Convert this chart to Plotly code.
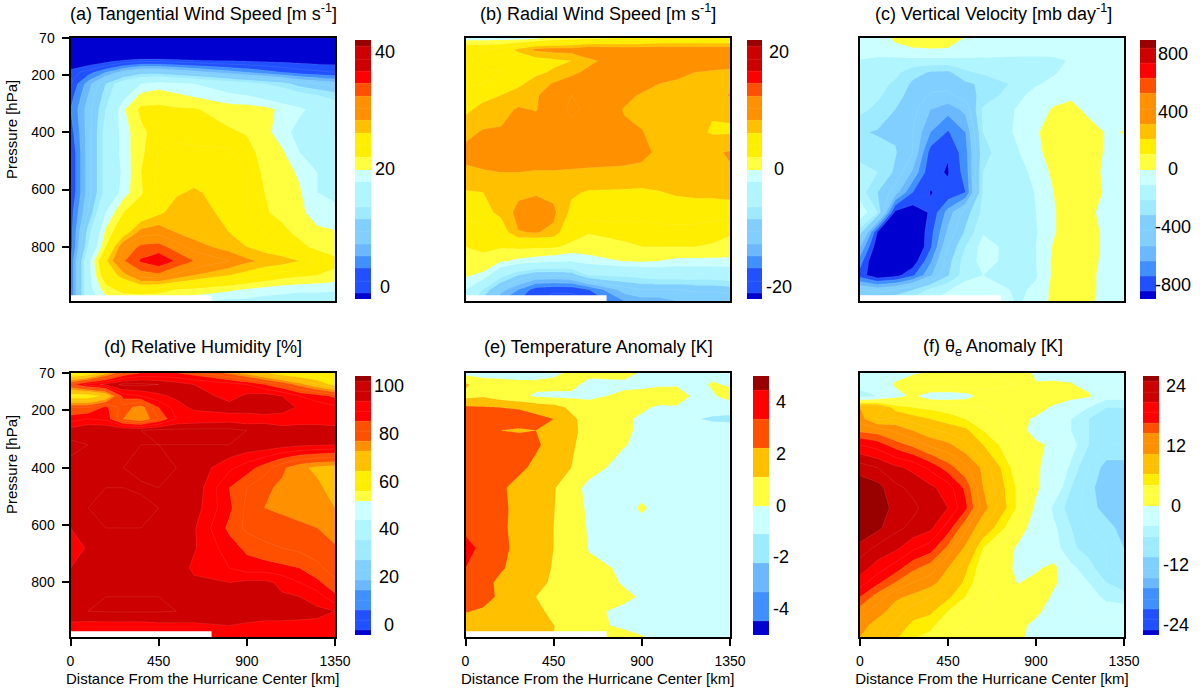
import plotly.graph_objects as go

W, H = 1200, 695

# Grid: distance (km) and pressure (hPa)
distance = [0, 90, 180, 270, 360, 450, 540, 630, 810, 900, 990, 1080, 1170, 1260, 1350]
pressure = [70, 110, 150, 190, 230, 270, 320, 400, 470, 540, 610, 680, 750, 800, 850, 900, 950, 990]
# Blank strip under the lowest level near the centre (outline in km and hPa)
missing_distance = [0, 720, 720, 0, 0]
missing_pressure = [970, 970, 990, 990, 970]

tangential = [
 [-12,-12,-12,-12,-12,-12,-12,-12,-12,-12,-12,-12,-12,-12,-12],
 [-8,-8,-8,-8,-8,-8,-8,-8,-8,-8,-8,-8,-8,-8,-8],
 [-3,-2,-1,0.5,1.5,1.5,1,0.5,0,-0.2,-0.4,-0.6,-0.8,-1,-1],
 [1,3,6,9,11,11,10,9,7,6,5,4,3,2.5,2],
 [2,7,12,16,18,19,18.5,18,16,15,14,13,11,10,9],
 [3,8,13,17,20.5,21,20.3,19.7,18.5,18,17,16,15,14,13],
 [4,9,14,19.7,22.5,22.5,22.3,22.2,21,21,20.7,19.5,18.5,17,16],
 [3,9,15,19,21.5,23,23.5,23,22.3,21.8,20.7,19,17,16,16],
 [2,9,15,19,21.5,24,24.5,24.5,24.4,23,21,20.3,18,17,16.5],
 [2,9,15,18.5,22,24.5,25,25,24.5,24,21.5,20.8,19.7,18,17.5],
 [2,9,15,19,21.7,24.5,25.7,26.3,25,24,22,21,20.2,18,17.5],
 [3,10,18,22,23.5,25.5,27,27.5,25,24,22.2,21.5,20.5,19,18.5],
 [3,13,20.5,24.5,29,29.5,28,27,26,25,24,22.5,21.5,20.5,20.2],
 [3,14,22,30,32.5,32.8,31,29,27,26,25,24,22.5,21.5,21],
 [4,17,25.5,31.8,34.3,35.5,33.8,32,30,28.5,27.5,27,26,23.5,22.5],
 [4,17,24,27,31,31.5,29.5,28,26,25,24,23,22.5,22,21.5],
 [4,17,21,23,23.5,23,22,21.5,20.5,19.8,19.2,18.8,18.5,18.5,18.3],
 [4,16,19,20,20,20,19,18.5,17.5,17.5,17,16.8,16.5,16.5,16.5],
]

radial = [
 [-1,-1,-1,-1,-0.5,0.5,1,1.5,2,2.2,3,3,3,3,3],
 [4,4,4.5,6.5,8.5,9,9,10,9.5,9.5,9.5,9.5,9.5,9.5,9.5],
 [3.5,4.5,4.5,4.5,5,5.5,6,7.5,9.5,10,10,10,9.5,9,9],
 [3,3.5,4,4.5,5.5,6.3,7.5,8.5,9.5,9.7,9,8.7,8,7.8,7.6],
 [3.5,4,4.7,5.5,7,8.2,9,9.5,9.5,8.8,8,7.6,7.3,7,7],
 [5,5.3,6,7,7.8,9,10,9.7,8.5,7.8,7.3,7,6.8,7,8.2],
 [5.5,6.7,7.4,8.2,7.9,9.5,10.2,9.8,7.9,7.4,7,6.6,6.3,6.2,6.3],
 [7.5,8.2,8.2,8.8,9,9.5,9.6,9.3,8.3,8.1,7.2,6.8,6.5,5.8,5.8],
 [8.5,8.6,8.3,8.6,8.8,9,9,9,8.8,8.4,7.7,7.2,7.3,7.7,8.2],
 [7.7,7.9,8,8,7.9,7.9,7.8,7.7,7.6,7.6,7.4,7.4,7.5,7.8,7.8],
 [5.8,6,7,7.5,7.8,7.5,6.3,5.8,5.7,5.6,5.9,6.3,6.5,6.5,6.6],
 [5,5.3,6.5,8.7,9,8.4,5.5,5.3,5,4.8,4.7,4.8,4.8,4.8,5],
 [2.5,3,4.5,7.9,8.1,7.6,3,2.1,3,3,3.5,3.5,3.5,3,2.2],
 [2,2.3,2.2,2.5,2.4,2.3,1.5,1.2,1.4,2,2,2,2,1.7,1.4],
 [1.5,1.6,0.3,-0.5,-1,-1.5,-1.9,-0.9,0.1,0.3,0,-0.5,-0.5,-0.5,-0.5],
 [0.3,-0.5,-5,-8,-10,-10,-9.5,-6,-5.5,-5,-4.5,-4.5,-4.5,-4.5,-4],
 [-2,-6,-11,-14,-17,-17.5,-17.5,-16,-11,-10,-10,-10,-9.5,-9.5,-9],
 [-4,-9,-14,-16,-18,-19,-19,-18,-14,-13,-13,-12,-12,-12,-12],
]

vertical = [
 [-80,-60,20,60,60,70,-10,-40,-40,-40,-40,-40,-40,-40,-40],
 [-50,-60,-30,-10,-5,-10,-30,-50,-50,-50,-50,-50,-50,-50,-50],
 [-105,-120,-130,-130,-130,-130,-125,-120,-130,-130,-125,-90,-60,-50,-50],
 [-130,-140,-170,-260,-310,-320,-220,-180,-140,-140,-110,-70,-50,-50,-50],
 [-140,-160,-220,-320,-370,-370,-320,-280,-170,-110,-80,-60,-50,-50,-50],
 [-160,-180,-260,-340,-410,-420,-350,-270,-120,-70,-40,-30,-40,-50,-50],
 [-170,-230,-300,-370,-500,-560,-470,-180,-90,-40,10,50,-40,-50,-50],
 [-290,-310,-320,-400,-600,-710,-600,-200,-80,-10,40,70,70,-10,5],
 [-250,-260,-290,-400,-740,-795,-640,-230,-105,-30,50,80,80,-20,-60],
 [-150,-200,-320,-520,-780,-806,-660,-200,-150,-60,20,70,60,-30,-50],
 [-150,-300,-450,-700,-803,-780,-700,-190,-190,-90,0,70,70,-20,-50],
 [-30,-200,-830,-860,-790,-560,-350,-170,-180,-100,-10,60,20,-30,-50],
 [-250,-810,-900,-930,-740,-480,-280,-110,-170,-110,-10,60,50,-30,-40],
 [-500,-880,-950,-950,-720,-400,-200,-60,-150,-100,10,60,50,-30,-50],
 [-650,-950,-950,-870,-620,-340,-150,-70,-140,-100,20,60,50,-40,-50],
 [-750,-880,-840,-720,-520,-310,-140,-100,-130,-110,20,60,30,-40,-50],
 [-400,-450,-400,-310,-180,-110,-40,-40,-120,-80,30,60,30,-40,-50],
 [-200,-200,-200,-150,-100,-50,-30,-30,-110,-70,30,60,20,-40,-50],
]

humidity = [
 [55,58,70,80,84,84,84,82,75,70,65,60,58,57,56],
 [82,90,93,97,97,96,94,92,90,88,84,80,74,68,62],
 [60,60,66,86,88,91,93,95,90,93,94,92,88,86,83],
 [80,80,85,78,74,84,90,93,94,95,95,95,91,90,89],
 [86,88,87,76,72,80,88,89,90,89,90,89,90,90,89],
 [94,96,96,96,96,97,97,97,97,96,95,94,94,94,94],
 [97,96,96,96,96,96,96,96,96,95,95,94,93,92.5,92],
 [95,95,96,96,97,97,96,95,89,86,82,77,73,71,70],
 [96,96,96,96,95.5,96,96,95,84,80,77,75,74,73,70],
 [95,96,97,97,97,96,96,94,85,79,76,75,74,73,72],
 [92,96,96,96,96,96,95,92.5,83,79,78,78,77,76,72],
 [90,92.5,96,96,96,96,95,92.5,86,83,81,80,79,78,77],
 [92,95,96,96,96,96,95,91,88,86,86,85,84,81,78],
 [93,95,96,96,96,96,96,93,92,93,93,91,88,85,81],
 [96,96,96,96,96,96,96,95,95,94,94,92.5,92,90,85],
 [95,96,96.3,96.3,96.3,96.3,96,96,95,94,94,94,93.5,93,92],
 [91,90.5,90.5,90.5,90.5,91,91,91,92,91.5,91,91,91,91,90],
 [90,90,90,90,90,90,90,90,90,90,90,90,90,90,89],
]

temperature = [
 [-0.3,-0.3,-0.3,-0.3,-0.3,-0.2,0.2,0.3,0.3,-0.1,-0.1,-0.1,-0.3,-0.3,-0.3],
 [1.2,0.4,0.3,0.2,0.2,0.3,0.3,-0.3,-0.2,-0.2,-0.1,-0.1,-0.3,0.1,-0.1],
 [0.7,0.9,0.5,0.2,-0.1,-0.2,-0.2,-0.2,0.2,0.3,0.4,0.5,-0.2,-0.1,0.3],
 [2.2,2.1,2,1.9,1.6,1.4,0.8,0.4,0.3,0.1,-0.1,-0.1,-0.3,-0.3,-0.4],
 [2.6,2.6,2.6,2.5,2.3,2,1.2,0.6,0.1,-0.1,-0.2,-0.3,-0.9,-1.2,-1.3],
 [2.5,2.4,2,1.9,2,1.7,1.2,0.7,0.1,-0.1,-0.2,-0.3,-0.3,-0.3,-0.3],
 [2.7,2.6,2.6,2.5,2.2,1.5,1.1,0.7,0.05,-0.2,-0.2,-0.2,-0.2,-0.2,-0.2],
 [2.8,2.8,2.6,2.3,1.7,1.4,1,0.3,-0.3,-0.3,-0.3,-0.3,-0.3,-0.3,-0.3],
 [2.7,2.6,2.2,1.6,1.5,1.1,0.3,-0.2,-0.3,-0.3,-0.3,-0.3,-0.3,-0.3,-0.3],
 [2.7,2.6,2.4,1.5,1.4,1.05,0.3,-0.1,-0.3,0.12,-0.3,-0.3,-0.3,-0.3,-0.3],
 [2.8,2.6,2.2,1.7,1.3,1,0.3,-0.05,-0.2,-0.3,-0.3,-0.3,-0.3,-0.3,-0.3],
 [3.3,2.8,2.2,1.8,1.4,1,0.7,-0.05,-0.05,-0.3,-0.3,-0.3,-0.3,-0.3,-0.3],
 [3,2.7,2.1,1.7,1.3,0.95,0.6,0.2,-0.1,-0.3,-0.3,-0.3,-0.3,-0.3,-0.3],
 [2.5,2.3,1.8,1.6,1.3,0.85,0.6,0.3,-0.05,-0.3,-0.3,-0.3,-0.3,-0.3,-0.3],
 [2.2,2.3,1.85,1.5,1,0.7,0.5,0.3,0.1,-0.05,-0.2,-0.3,-0.3,-0.3,-0.3],
 [2.05,1.9,1.6,1.4,1.2,0.8,0.5,0.1,-0.1,-0.3,-0.3,-0.3,-0.3,-0.3,-0.3],
 [1.6,1.6,1.5,1.3,1.2,1.02,0.7,0.15,-0.1,-0.3,-0.3,-0.3,-0.3,-0.3,-0.3],
 [1.5,1.5,1.4,1.2,1.1,1,0.7,0.3,0.2,0.05,-0.2,-0.3,-0.3,-0.3,-0.3],
]

theta_e = [
 [-4,-3,-1,-0.5,0.5,1,2,2,1.5,-0.5,-1,-1,-1,-1,-1],
 [-3,-2,0.3,3,3,3,3,3,2,0.2,0.5,0.2,-1,-1.5,-1.5],
 [-5,-4,-1,0.5,-1.5,-1.5,-1,1,0.5,1.5,2,1.5,0.5,-3,-3],
 [10,10,5,4,3.5,3,2.5,2,1.5,1.5,-0.5,-3,-4,-6,-6],
 [11,7.5,8.5,7,6,5,4,3,1,-0.5,-2,-4,-6,-7,-7],
 [13.5,13,11.5,10,8.5,7.5,6.5,4,1,-1,-2,-4,-6,-6,-7],
 [18,17,15,13.5,11.5,10.5,8.5,6,1.5,0.5,-0.5,-3,-6,-8,-8],
 [23,22,20.5,19.5,17.5,15,12.5,9.5,2.5,0.5,-1.5,-4.5,-8,-11,-11],
 [25.5,24.8,22.5,21.5,20.5,19,15.5,10,3.5,0.5,-2,-6,-9,-12,-11],
 [26,25,23.5,22.5,21,20,16.5,11,3.5,-0.5,-4.5,-7,-9,-11,-11.5],
 [26.5,24.5,22.5,21.5,20.5,17,12.5,8,1.5,-1.5,-3.5,-6,-8,-9,-11],
 [23,21.5,20.5,18.5,17,13.5,9.5,4,-0.5,-1.5,-3,-5.5,-7,-8,-10],
 [21,19,17,14.5,13,10,6.5,2.5,-0.5,-0.5,1,-3.5,-5,-8,-10],
 [19,16.5,14,12,11,8.5,5.5,2,-0.1,1,0.5,-1.5,-4,-6,-7.5],
 [16,13,10.5,9.5,8,6.5,4,2.5,1,2,-0.5,-1.5,-3,-4.5,-5],
 [13,11,9,7,6.5,4,2.5,2,1,0.5,-1,-1.5,-2.5,-3,-3],
 [11,9,7.5,5.5,4.5,2.5,2,1.5,0.5,-0.5,-1,-1,-1,-1,-1],
 [10,8.5,6.5,4.2,3.5,2,2,1.5,0.3,-0.5,-1,-1,-1,-1,-1],
]

# Palettes, lowest band first
pal_22 = ["#0000d0","#2050ff","#2050ff","#4090ff","#6cb8ff","#80cfff","#80cfff","#9eeaff","#b0f5ff","#b0f5ff","#ccffff",
          "#ffff40","#ffee00","#ffee00","#ffc000","#ff9000","#ff9000","#ff5000","#ff0000","#cc0000","#cc0000","#990000"]
pal_18 = ["#0000d0","#2050ff","#4090ff","#6cb8ff","#80cfff","#80cfff","#9eeaff","#b0f5ff","#ccffff",
          "#ffff40","#ffee00","#ffc000","#ff9000","#ff9000","#ff5000","#ff0000","#cc0000","#990000"]
pal_27 = ["#0000d0","#2050ff","#2050ff","#4090ff","#4090ff","#6cb8ff","#80cfff","#80cfff","#9eeaff","#9eeaff","#b0f5ff","#b0f5ff","#ccffff","#ccffff",
          "#ffff40","#ffee00","#ffee00","#ffc000","#ffc000","#ff9000","#ff5000","#ff5000","#ff0000","#ff0000","#cc0000","#cc0000","#990000"]
pal_10 = ["#0000d0","#4090ff","#6cb8ff","#9eeaff","#ccffff","#ffff40","#ffc000","#ff5000","#ff0000","#990000"]
pal_26 = ["#0000d0","#2050ff","#2050ff","#4090ff","#4090ff","#6cb8ff","#80cfff","#80cfff","#9eeaff","#9eeaff","#b0f5ff","#ccffff","#ccffff",
          "#ffff40","#ffff40","#ffee00","#ffc000","#ffc000","#ff9000","#ff9000","#ff5000","#ff0000","#ff0000","#cc0000","#cc0000","#990000"]

titles = ["(a) Tangential Wind Speed [m s<sup>-1</sup>]", "(b) Radial Wind Speed [m s<sup>-1</sup>]",
          "(c) Vertical Velocity [mb day<sup>-1</sup>]", "(d) Relative Humidity [%]",
          "(e) Temperature Anomaly [K]", "(f) θ<sub>e</sub> Anomaly [K]"]
fields = [tangential, radial, vertical, humidity, temperature, theta_e]
palettes = [pal_22, pal_22, pal_18, pal_27, pal_10, pal_26]
levels = [(0, 40, 2), (-20, 20, 2), (-800, 800, 100), (0, 100, 4), (-4, 4, 1), (-24, 24, 2)]
bar_ticks = [[0, 20, 40], [-20, 0, 20], [-800, -400, 0, 400, 800], [0, 20, 40, 60, 80, 100],
             [-4, -2, 0, 2, 4], [-24, -12, 0, 12, 24]]
has_blank_strip = [True, True, True, True, True, False]
x_ticks = [0, 450, 900, 1350]
y_ticks = [70, 200, 400, 600, 800]
x_title = "Distance From the Hurricane Center [km]"
y_title = "Pressure [hPa]"

FONT = "Liberation Sans"
panel_x = [(70.5, 335), (465.5, 730), (860, 1124), (70.5, 335), (465.5, 730), (860, 1124)]
panel_y = [(38, 301)] * 3 + [(373, 637)] * 3
bar_x = [(355, 371), (747, 762), (1140, 1156), (355, 371), (753, 769), (1143, 1159)]
bar_y = [(40, 299)] * 3 + [(376, 635)] * 3
label_x = [385, 779, 1173, 389, 781, 1176]
title_x = [203, 598, 993, 203, 598, 993]

fig = go.Figure()
annotations = []
layout = {}
for i in range(6):
    n = "" if i == 0 else str(i + 1)
    low, high, step = levels[i]
    pal = palettes[i]
    px0, px1 = panel_x[i]
    py0, py1 = panel_y[i]
    by0, by1 = bar_y[i]
    fig.add_trace(go.Contour(
        x=distance, y=pressure, z=fields[i], xaxis="x" + n, yaxis="y" + n,
        autocontour=False,
        contours=dict(start=low, end=high, size=step, coloring="fill", showlines=True),
        line=dict(width=0.5, color="rgba(255,255,255,0.2)", smoothing=0),
        colorscale=[[k / (len(pal) - 1), c] for k, c in enumerate(pal)],
        hoverinfo="skip",
        colorbar=dict(
            thicknessmode="pixels", thickness=bar_x[i][1] - bar_x[i][0],
            lenmode="pixels", len=by1 - by0,
            x=bar_x[i][0] / W, xanchor="left", y=1 - by0 / H, yanchor="top",
            xpad=0, ypad=0, outlinewidth=0, borderwidth=0,
            tickmode="array", tickvals=bar_ticks[i], showticklabels=False, ticks="",
        ),
    ))
    if has_blank_strip[i]:
        fig.add_trace(go.Scatter(
            x=missing_distance, y=missing_pressure, xaxis="x" + n, yaxis="y" + n,
            mode="lines", line=dict(width=0), fill="toself", fillcolor="white", hoverinfo="skip",
        ))
    bottom = i >= 3
    left = i % 3 == 0
    layout["xaxis" + n] = dict(
        domain=[px0 / W, px1 / W], range=[0, 1350], anchor="y" + n,
        showline=True, linecolor="black", linewidth=2, mirror=True, showgrid=False, zeroline=False,
        tickmode="array", tickvals=x_ticks if bottom else [], ticks="outside" if bottom else "",
        ticklen=7, tickwidth=1.5, tickcolor="black", ticklabelstandoff=3,
        tickfont=dict(family=FONT, size=14, color="black"),
        title=dict(text=x_title, font=dict(family=FONT, size=15, color="black"), standoff=6) if bottom else {},
        automargin=False,
    )
    layout["yaxis" + n] = dict(
        domain=[1 - py1 / H, 1 - py0 / H], range=[990, 70], anchor="x" + n,
        showline=True, linecolor="black", linewidth=2, mirror=True, showgrid=False, zeroline=False,
        tickmode="array", tickvals=y_ticks if left else [], ticks="outside" if left else "",
        ticklen=7, tickwidth=1.5, tickcolor="black", ticklabelstandoff=4,
        tickfont=dict(family=FONT, size=14, color="black"),
        automargin=False,
    )
    if left:
        annotations.append(dict(
            text=y_title, xref="paper", yref="paper", x=12 / W, y=1 - (py0 + 92) / H,
            showarrow=False, xanchor="center", yanchor="middle", textangle=-90,
            font=dict(family=FONT, size=15, color="black"),
        ))
    annotations.append(dict(
        text=titles[i], xref="paper", yref="paper", x=title_x[i] / W, y=1 - (py0 - 26) / H,
        showarrow=False, xanchor="center", yanchor="middle",
        font=dict(family=FONT, size=18, color="black"),
    ))
    # colour bar labels, centred as in the reference
    span = (high + step) - (low - step)
    for t in bar_ticks[i]:
        frac = (t - (low - step)) / span
        annotations.append(dict(
            text=str(t), xref="paper", yref="paper", x=label_x[i] / W,
            y=1 - (by1 - frac * (by1 - by0)) / H,
            showarrow=False, xanchor="center", yanchor="middle",
            font=dict(family=FONT, size=18, color="black"),
        ))

fig.update_layout(width=W, height=H, margin=dict(l=0, r=0, t=0, b=0, autoexpand=False), paper_bgcolor="white",
                  plot_bgcolor="white", annotations=annotations, showlegend=False, **layout)
fig.write_html("out.html", post_script="document.body.style.margin='0';", config=dict(displayModeBar=False))
